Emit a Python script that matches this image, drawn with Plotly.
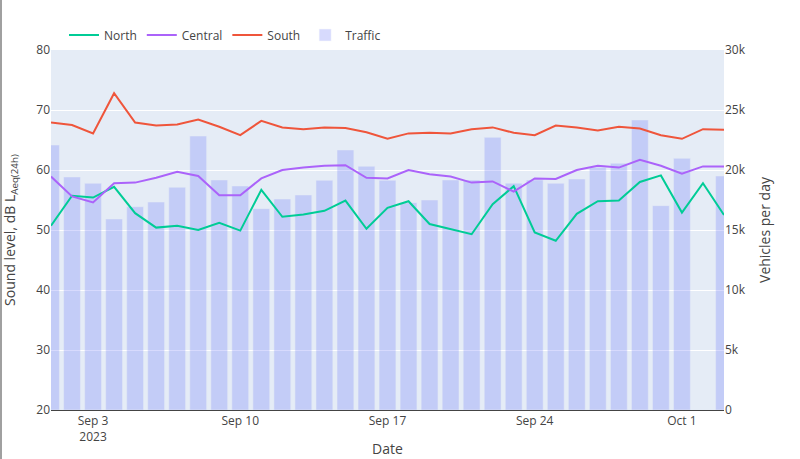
import plotly.graph_objects as go
import pandas as pd

dates = pd.date_range("2023-09-01", "2023-10-03", freq="D").strftime("%Y-%m-%d").tolist()

north = [50.7, 55.7, 55.4, 57.2, 52.8, 50.4, 50.7, 50.0, 51.2, 49.9, 56.7, 52.2,
         52.6, 53.2, 54.9, 50.2, 53.7, 54.8, 51.0, 50.2, 49.3, 54.3, 57.3, 49.6,
         48.2, 52.7, 54.8, 54.9, 58.0, 59.1, 52.9, 57.8, 52.5]
central = [58.9, 55.6, 54.6, 57.8, 57.9, 58.7, 59.7, 59.0, 55.8, 55.8, 58.6, 60.0,
           60.4, 60.7, 60.8, 58.7, 58.6, 60.0, 59.3, 58.9, 57.9, 58.1, 56.4, 58.6,
           58.5, 60.0, 60.7, 60.4, 61.7, 60.7, 59.4, 60.6, 60.6]
south = [67.9, 67.5, 66.1, 72.8, 67.9, 67.4, 67.6, 68.4, 67.2, 65.8, 68.2, 67.1,
         66.8, 67.1, 67.0, 66.3, 65.2, 66.1, 66.2, 66.1, 66.8, 67.1, 66.2, 65.8,
         67.4, 67.1, 66.6, 67.2, 66.9, 65.8, 65.2, 66.8, 66.7]
traffic = [22080, 19420, 18890, 15920, 16940, 17330, 18560, 22830, 19170, 18670, 16780, 17580,
           17920, 19140, 21670, 20310, 19140, 17280, 17500, 19170, 19170, 22720, 18900, 19170,
           18890, 19250, 20220, 20560, 24170, 17030, 20970, None, 19500]

fig = go.Figure()

# bars on the base (right-hand) axis, lines on the overlaying (left-hand) axis so they draw on top
fig.add_trace(go.Bar(x=dates, y=traffic, name="Traffic", marker_color="#636efa",
                     opacity=0.25, yaxis="y", legendrank=4))
fig.add_trace(go.Scatter(x=dates, y=north, name="North", mode="lines", yaxis="y2",
                         line=dict(color="#00cc96", width=2), legendrank=1))
fig.add_trace(go.Scatter(x=dates, y=central, name="Central", mode="lines", yaxis="y2",
                         line=dict(color="#ab63fa", width=2), legendrank=2))
fig.add_trace(go.Scatter(x=dates, y=south, name="South", mode="lines", yaxis="y2",
                         line=dict(color="#EF553B", width=2), legendrank=3))

fig.update_layout(
    template="plotly",
    width=800, height=459,
    margin=dict(l=51, r=76, t=50, b=49, autoexpand=False),
    font=dict(family="Open Sans, verdana, arial, sans-serif", size=12, color="#444"),
    legend=dict(orientation="h", x=13 / 673, xanchor="left", y=1 + 15 / 360, yanchor="middle",
                bgcolor="rgba(0,0,0,0)"),
    barmode="overlay",
    xaxis=dict(title=dict(text="Date", standoff=0), domain=[0, 1],
               range=["2023-09-01", "2023-10-03"],
               showline=True, linecolor="#444", linewidth=1, layer="below traces",
               automargin=False),
    yaxis=dict(title_text="Vehicles per day", side="right", range=[0, 30000], dtick=5000,
               showgrid=False, zeroline=False, automargin=False),
    yaxis2=dict(title=dict(text="Sound level, dB L<sub>Aeq(24h)</sub>", standoff=19),
                side="left", overlaying="y", range=[20, 80], dtick=10, showgrid=True,
                gridcolor="white", automargin=False),
    shapes=[dict(type="line", xref="paper", yref="paper",
                 x0=-50 / 673, x1=-50 / 673, y0=-49 / 360, y1=1 + 50 / 360,
                 line=dict(color="#a0a0a0", width=2))],
)

fig.write_html("out.html", config={"displayModeBar": False},
               post_script="document.body.style.margin='0';")
